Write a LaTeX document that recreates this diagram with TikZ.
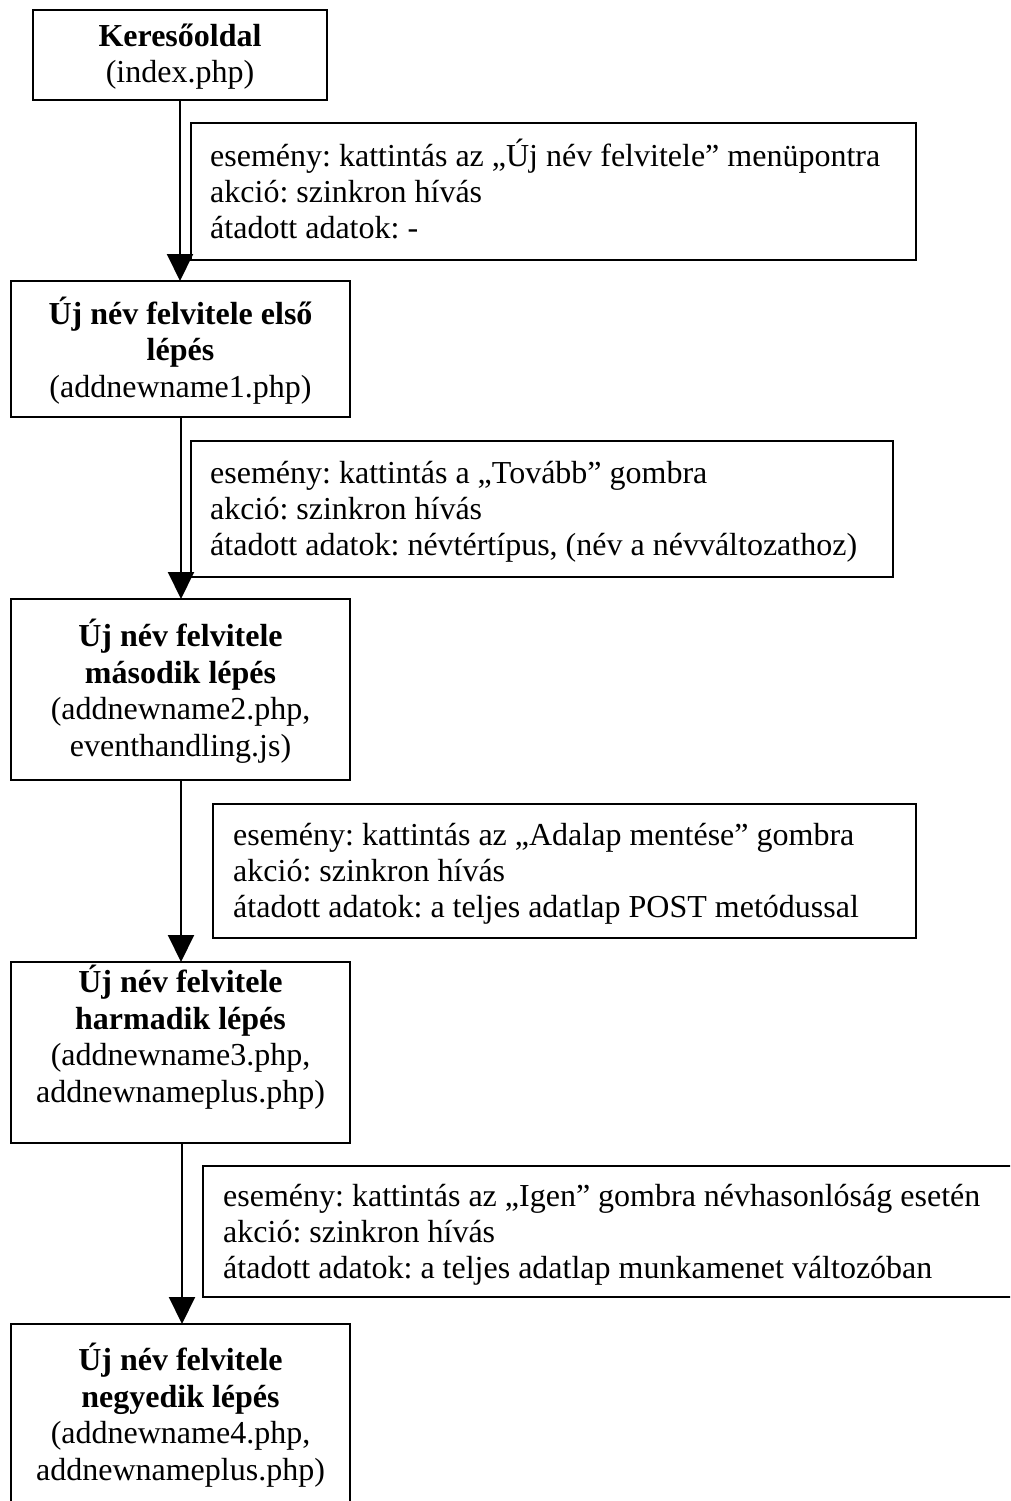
\documentclass[tikz,border=0pt]{standalone}
\usepackage{fontspec}
\setmainfont{Liberation Serif}
\usetikzlibrary{arrows.meta}
\frenchspacing
\begin{document}
\begin{tikzpicture}[x=1pt,y=-1pt,
  frame/.style={draw, line width=1.8pt, rectangle, inner sep=0pt, outer sep=0pt, anchor=north west},
  % the base anchor of a multi-line node sits on its last line
  boxtext/.style={align=center, inner sep=0pt, anchor=base, font=\fontsize{32}{36.5}\selectfont},
  notetext/.style={align=left, inner sep=0pt, anchor=base west, font=\fontsize{32}{36}\selectfont},
  flow/.style={line width=2pt, -{Triangle[width=26pt,length=27pt]}}]
\clip (0,0) rectangle (1010,1501);

% page frames
\node[frame, minimum width=294pt, minimum height=90pt]  (b1) at (33,10) {};
\node[frame, minimum width=339pt, minimum height=136pt] (b2) at (11,281) {};
\node[frame, minimum width=339pt, minimum height=181pt] (b3) at (11,599) {};
\node[frame, minimum width=339pt, minimum height=181pt] (b4) at (11,962) {};
\node[frame, minimum width=339pt, minimum height=240pt] (b5) at (11,1324) {};

% page titles
\node[boxtext] (t1) at (180,83) {\textbf{Keresőoldal}\\(index.php)};
\node[boxtext] (t2) at (180.5,397) {\textbf{Új név felvitele első}\\\textbf{lépés}\\(addnewname1.php)};
\node[boxtext] (t3) at (180.5,756) {\textbf{Új név felvitele}\\\textbf{második lépés}\\(addnewname2.php,\\eventhandling.js)};
\node[boxtext] (t4) at (180.5,1102) {\textbf{Új név felvitele}\\\textbf{harmadik lépés}\\(addnewname3.php,\\addnewnameplus.php)};
\node[boxtext] (t5) at (180.5,1480) {\textbf{Új név felvitele}\\\textbf{negyedik lépés}\\(addnewname4.php,\\addnewnameplus.php)};

% transition notes
\node[frame, minimum width=725pt, minimum height=137pt] (l1) at (191,123) {};
\node[frame, minimum width=702pt, minimum height=136pt] (l2) at (191,441) {};
\node[frame, minimum width=703pt, minimum height=134pt] (l3) at (213,804) {};
\node[frame, minimum width=850pt, minimum height=131pt] (l4) at (203,1166) {};

\node[notetext] (n1) at (210,238) {esemény: kattintás az „Új név felvitele” menüpontra\\akció: szinkron hívás\\átadott adatok: -};
\node[notetext] (n2) at (210,555) {esemény: kattintás a „Tovább” gombra\\akció: szinkron hívás\\átadott adatok: névtértípus, (név a névváltozathoz)};
\node[notetext] (n3) at (233,917) {esemény: kattintás az „Adalap mentése” gombra\\akció: szinkron hívás\\átadott adatok: a teljes adatlap POST metódussal};
\node[notetext] (n4) at (223,1278) {esemény: kattintás az „Igen” gombra névhasonlóság esetén\\akció: szinkron hívás\\átadott adatok: a teljes adatlap munkamenet változóban};

% navigation arrows
\draw[flow] (b1.south) -- (b1.south |- b2.north);
\draw[flow] ([xshift=0.5pt]b2.south) -- ([xshift=0.5pt]b2.south |- b3.north);
\draw[flow] ([xshift=0.5pt]b3.south) -- ([xshift=0.5pt]b3.south |- b4.north);
\draw[flow] ([xshift=1.5pt]b4.south) -- ([xshift=1.5pt]b4.south |- b5.north);
\end{tikzpicture}
\end{document}
